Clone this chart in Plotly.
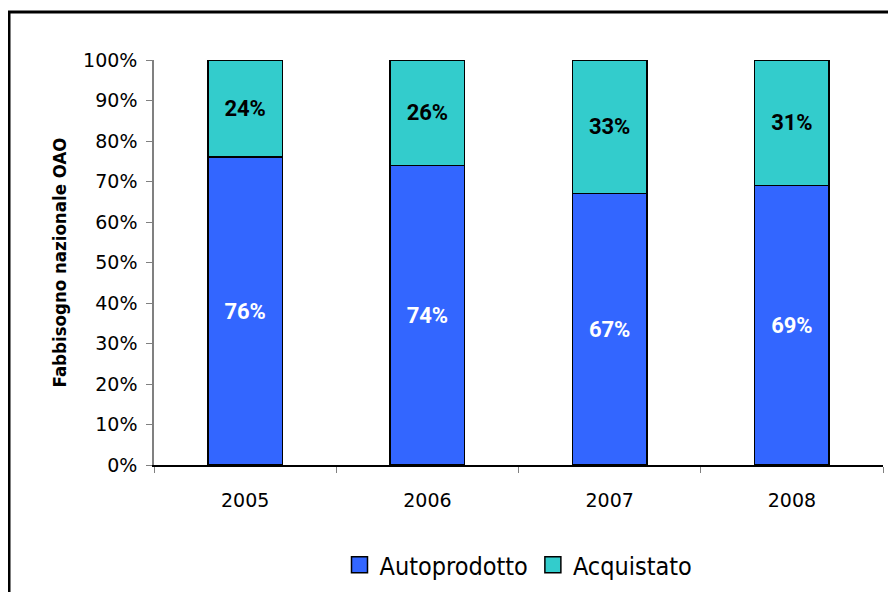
import plotly.graph_objects as go

years = ["2005", "2006", "2007", "2008"]
autoprodotto = [76, 74, 67, 69]
acquistato = [24, 26, 33, 31]
series_names = ["Autoprodotto", "Acquistato"]
series_colors = ["#3366FF", "#33CCCC"]
tick_vals = [0, 10, 20, 30, 40, 50, 60, 70, 80, 90, 100]
tick_text = [f"{v}%" for v in tick_vals]

fig = go.Figure()
for vals, name, color, tcolor in [(autoprodotto, series_names[0], series_colors[0], "white"),
                                  (acquistato, series_names[1], series_colors[1], "black")]:
    fig.add_trace(go.Bar(
        x=years, y=vals, name=name, showlegend=False,
        marker=dict(color=color, line=dict(color="#000000", width=1.5)),
        text=[f"{v}%" for v in vals], textposition="inside",
        insidetextanchor="middle", textangle=0,
        textfont=dict(family="Roboto", size=22, color=tcolor, weight="bold"),
    ))

# legend entries with larger square markers
for name, color in zip(series_names, series_colors):
    fig.add_trace(go.Scatter(
        x=[None], y=[None], mode="markers", name=name,
        marker=dict(symbol="square", size=16, color=color,
                    line=dict(color="black", width=1.5)),
    ))

fig.update_layout(
    barmode="stack",
    bargap=0.59,
    width=896, height=592,
    margin=dict(l=146, r=21, t=52, b=135),
    paper_bgcolor="white", plot_bgcolor="white",
    font=dict(family="DejaVu Sans", color="black"),
    showlegend=True,
    legend=dict(orientation="h", x=0.5, xanchor="center", y=-0.247, yanchor="middle",
                font=dict(family="DejaVu Sans Condensed", size=25, color="black"),
                traceorder="normal", itemsizing="trace", tracegroupgap=0),
    xaxis=dict(
        type="category", tickson="boundaries", ticks="outside", ticklen=6,
        tickcolor="#808080", showline=True, linecolor="black", linewidth=1.5,
        tickfont=dict(family="DejaVu Sans", size=19, color="black"),
        ticklabelstandoff=17,
        showgrid=False, zeroline=False,
    ),
    yaxis=dict(
        range=[0, 100], tickvals=tick_vals, ticktext=tick_text,
        ticks="outside", ticklen=6, tickcolor="#808080",
        showline=True, linecolor="#808080", linewidth=1.5,
        tickfont=dict(family="DejaVu Sans", size=19, color="black"),
        ticklabelstandoff=5,
        showgrid=False, zeroline=False,
        title=dict(text="<b>Fabbisogno nazionale OAO</b>", standoff=12,
                   font=dict(family="DejaVu Sans Condensed", size=18.5, color="black")),
    ),
    shapes=[dict(type="rect", xref="paper", yref="paper",
                 x0=-0.1989, x1=1.2, y0=-0.5, y1=1.1185,
                 line=dict(color="black", width=3), fillcolor="rgba(0,0,0,0)", layer="below")],
)

fig.write_html("out.html")
